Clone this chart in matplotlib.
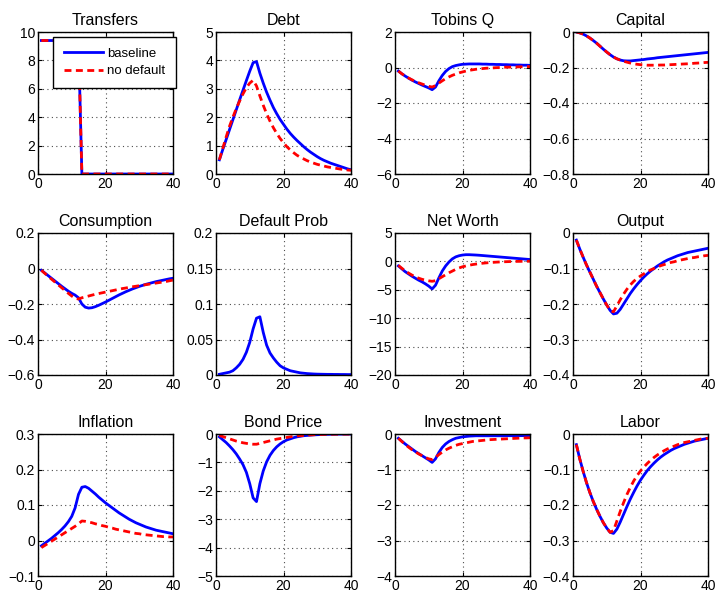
import matplotlib
matplotlib.use("Agg")
import matplotlib.pyplot as plt
from matplotlib.ticker import FuncFormatter

plt.rcParams['font.family'] = ['Liberation Sans', 'DejaVu Sans']

# =========================
# DATA (impulse responses, periods 1..40)
# =========================
periods = list(range(1, 41))

transfers_base = [9.4, 9.4, 9.4, 9.4, 9.4, 9.4, 9.4, 9.4, 9.4, 9.4, 9.4, 9.4,
                  0, 0, 0, 0, 0, 0, 0, 0, 0, 0, 0, 0, 0, 0, 0, 0, 0, 0,
                  0, 0, 0, 0, 0, 0, 0, 0, 0, 0]
transfers_nodef = [9.4, 9.4, 9.4, 9.4, 9.4, 9.4, 9.4, 9.4, 9.4, 9.4, 9.4, 9.4,
                   0, 0, 0, 0, 0, 0, 0, 0, 0, 0, 0, 0, 0, 0, 0, 0, 0, 0,
                   0, 0, 0, 0, 0, 0, 0, 0, 0, 0]

debt_base = [0.50, 0.86, 1.21, 1.56, 1.91, 2.26, 2.61, 2.95, 3.29, 3.62,
             3.92, 3.96, 3.55, 3.20, 2.88, 2.60, 2.34, 2.12, 1.92, 1.75,
             1.58, 1.43, 1.30, 1.18, 1.07, 0.96, 0.86, 0.77, 0.69, 0.61,
             0.54, 0.48, 0.43, 0.38, 0.34, 0.30, 0.26, 0.22, 0.18, 0.15]
debt_nodef = [0.50, 0.90, 1.30, 1.68, 2.00, 2.30, 2.57, 2.82, 3.04, 3.20,
              3.30, 3.10, 2.75, 2.42, 2.12, 1.86, 1.63, 1.43, 1.25, 1.10,
              0.96, 0.85, 0.75, 0.66, 0.59, 0.53, 0.47, 0.42, 0.38, 0.34,
              0.31, 0.28, 0.25, 0.23, 0.21, 0.19, 0.17, 0.16, 0.14, 0.13]

tobinq_base = [-0.20, -0.35, -0.48, -0.60, -0.71, -0.81, -0.90, -0.99, -1.07, -1.15,
               -1.25, -1.10, -0.75, -0.45, -0.22, -0.06, 0.05, 0.11, 0.15, 0.18,
               0.19, 0.20, 0.20, 0.20, 0.20, 0.19, 0.19, 0.18, 0.18, 0.17,
               0.17, 0.16, 0.16, 0.15, 0.15, 0.14, 0.14, 0.13, 0.13, 0.12]
tobinq_nodef = [-0.20, -0.35, -0.48, -0.59, -0.69, -0.78, -0.86, -0.93, -1.00, -1.06,
                -1.10, -1.02, -0.88, -0.75, -0.63, -0.53, -0.44, -0.37, -0.30, -0.25,
                -0.20, -0.16, -0.13, -0.10, -0.08, -0.06, -0.04, -0.03, -0.02, -0.01,
                0.00, 0.01, 0.02, 0.02, 0.03, 0.03, 0.04, 0.04, 0.05, 0.05]

capital_base = [0.000, -0.005, -0.012, -0.022, -0.034, -0.048, -0.063, -0.080, -0.097, -0.113,
                -0.128, -0.141, -0.151, -0.158, -0.162, -0.163, -0.163, -0.161, -0.159, -0.157,
                -0.155, -0.152, -0.150, -0.148, -0.145, -0.143, -0.141, -0.139, -0.137, -0.135,
                -0.133, -0.131, -0.129, -0.127, -0.125, -0.123, -0.121, -0.119, -0.117, -0.115]
capital_nodef = [0.000, -0.005, -0.012, -0.022, -0.034, -0.048, -0.063, -0.080, -0.097, -0.113,
                 -0.128, -0.141, -0.151, -0.158, -0.165, -0.170, -0.175, -0.179, -0.182, -0.184,
                 -0.186, -0.187, -0.187, -0.187, -0.187, -0.186, -0.186, -0.185, -0.184, -0.183,
                 -0.182, -0.181, -0.180, -0.179, -0.178, -0.176, -0.175, -0.174, -0.172, -0.171]

cons_base = [-0.010, -0.025, -0.040, -0.055, -0.070, -0.085, -0.100, -0.114, -0.128, -0.140,
             -0.150, -0.165, -0.200, -0.218, -0.223, -0.221, -0.215, -0.207, -0.198, -0.189,
             -0.179, -0.169, -0.159, -0.149, -0.140, -0.131, -0.123, -0.115, -0.108, -0.101,
             -0.095, -0.089, -0.084, -0.079, -0.074, -0.070, -0.066, -0.062, -0.058, -0.055]
cons_nodef = [-0.010, -0.027, -0.044, -0.060, -0.076, -0.092, -0.108, -0.124, -0.140, -0.155,
              -0.168, -0.172, -0.165, -0.160, -0.155, -0.150, -0.145, -0.141, -0.137, -0.133,
              -0.129, -0.125, -0.121, -0.117, -0.113, -0.110, -0.106, -0.103, -0.100, -0.097,
              -0.094, -0.091, -0.088, -0.085, -0.082, -0.079, -0.076, -0.073, -0.069, -0.065]

defprob_base = [0.001, 0.002, 0.003, 0.004, 0.006, 0.010, 0.015, 0.022, 0.032, 0.046,
                0.065, 0.080, 0.082, 0.060, 0.042, 0.031, 0.024, 0.018, 0.013, 0.010,
                0.008, 0.006, 0.005, 0.004, 0.003, 0.0025, 0.002, 0.0017, 0.0014, 0.0012,
                0.0011, 0.0010, 0.0009, 0.0009, 0.0008, 0.0008, 0.0007, 0.0007, 0.0006, 0.0006]

networth_base = [-0.80, -1.30, -1.80, -2.20, -2.60, -2.95, -3.30, -3.60, -3.95, -4.35,
                 -4.85, -4.20, -2.90, -1.70, -0.80, -0.10, 0.45, 0.80, 1.00, 1.12,
                 1.18, 1.18, 1.15, 1.12, 1.08, 1.03, 0.98, 0.93, 0.88, 0.83,
                 0.78, 0.73, 0.68, 0.63, 0.58, 0.53, 0.48, 0.43, 0.38, 0.33]
networth_nodef = [-0.70, -1.20, -1.65, -2.05, -2.40, -2.70, -2.95, -3.15, -3.30, -3.42,
                  -3.50, -3.40, -3.05, -2.70, -2.35, -2.00, -1.70, -1.40, -1.15, -0.95,
                  -0.80, -0.67, -0.56, -0.47, -0.39, -0.32, -0.26, -0.21, -0.17, -0.13,
                  -0.10, -0.07, -0.05, -0.03, -0.01, 0.00, 0.01, 0.02, 0.03, 0.03]

output_base = [-0.020, -0.045, -0.068, -0.090, -0.110, -0.130, -0.150, -0.168, -0.186, -0.203,
               -0.218, -0.228, -0.226, -0.215, -0.200, -0.185, -0.170, -0.157, -0.145, -0.134,
               -0.124, -0.115, -0.107, -0.100, -0.093, -0.087, -0.081, -0.076, -0.072, -0.068,
               -0.064, -0.061, -0.058, -0.055, -0.053, -0.051, -0.049, -0.047, -0.045, -0.043]
output_nodef = [-0.020, -0.045, -0.068, -0.090, -0.110, -0.130, -0.150, -0.168, -0.186, -0.203,
                -0.218, -0.222, -0.205, -0.188, -0.172, -0.158, -0.146, -0.136, -0.128, -0.121,
                -0.115, -0.109, -0.104, -0.100, -0.096, -0.092, -0.089, -0.086, -0.083, -0.081,
                -0.078, -0.076, -0.074, -0.072, -0.070, -0.069, -0.067, -0.066, -0.064, -0.063]

infl_base = [-0.015, -0.008, -0.001, 0.006, 0.014, 0.022, 0.031, 0.041, 0.053, 0.068,
             0.092, 0.130, 0.150, 0.152, 0.147, 0.139, 0.131, 0.122, 0.114, 0.106,
             0.099, 0.092, 0.085, 0.078, 0.072, 0.066, 0.060, 0.055, 0.050, 0.046,
             0.042, 0.038, 0.035, 0.032, 0.029, 0.027, 0.025, 0.023, 0.021, 0.019]
infl_nodef = [-0.020, -0.014, -0.008, -0.002, 0.004, 0.010, 0.016, 0.022, 0.028, 0.034,
              0.040, 0.047, 0.055, 0.054, 0.052, 0.050, 0.047, 0.045, 0.042, 0.040,
              0.037, 0.035, 0.032, 0.030, 0.028, 0.026, 0.024, 0.022, 0.020, 0.019,
              0.017, 0.016, 0.015, 0.014, 0.013, 0.012, 0.011, 0.011, 0.010, 0.010]

bond_base = [-0.10, -0.20, -0.30, -0.42, -0.55, -0.70, -0.88, -1.08, -1.35, -1.75,
             -2.25, -2.38, -1.75, -1.30, -0.98, -0.75, -0.58, -0.45, -0.35, -0.27,
             -0.21, -0.17, -0.13, -0.10, -0.08, -0.06, -0.05, -0.04, -0.03, -0.025,
             -0.020, -0.015, -0.012, -0.010, -0.008, -0.006, -0.005, -0.004, -0.003, -0.002]
bond_nodef = [-0.05, -0.09, -0.13, -0.17, -0.21, -0.25, -0.28, -0.31, -0.33, -0.35,
              -0.36, -0.36, -0.33, -0.30, -0.27, -0.24, -0.21, -0.18, -0.16, -0.14,
              -0.12, -0.10, -0.085, -0.07, -0.06, -0.05, -0.04, -0.033, -0.027, -0.022,
              -0.018, -0.015, -0.012, -0.010, -0.008, -0.006, -0.005, -0.004, -0.003, -0.002]

invest_base = [-0.12, -0.20, -0.28, -0.35, -0.42, -0.49, -0.55, -0.61, -0.67, -0.73,
               -0.80, -0.70, -0.52, -0.38, -0.28, -0.21, -0.16, -0.12, -0.10, -0.08,
               -0.07, -0.06, -0.055, -0.05, -0.05, -0.05, -0.05, -0.05, -0.05, -0.05,
               -0.05, -0.05, -0.048, -0.048, -0.048, -0.047, -0.047, -0.046, -0.046, -0.045]
invest_nodef = [-0.12, -0.21, -0.29, -0.37, -0.44, -0.50, -0.56, -0.61, -0.66, -0.70,
                -0.72, -0.66, -0.58, -0.51, -0.45, -0.40, -0.36, -0.32, -0.29, -0.27,
                -0.25, -0.23, -0.21, -0.20, -0.19, -0.18, -0.17, -0.16, -0.155, -0.15,
                -0.145, -0.14, -0.135, -0.13, -0.125, -0.12, -0.115, -0.11, -0.11, -0.105]

labor_base = [-0.030, -0.070, -0.105, -0.137, -0.165, -0.190, -0.212, -0.232, -0.250, -0.265,
              -0.277, -0.280, -0.268, -0.248, -0.226, -0.204, -0.183, -0.164, -0.146, -0.130,
              -0.116, -0.103, -0.092, -0.082, -0.073, -0.065, -0.058, -0.052, -0.046, -0.041,
              -0.037, -0.033, -0.029, -0.026, -0.023, -0.020, -0.018, -0.016, -0.014, -0.012]
labor_nodef = [-0.030, -0.070, -0.105, -0.137, -0.165, -0.190, -0.212, -0.232, -0.250, -0.265,
               -0.277, -0.272, -0.245, -0.218, -0.193, -0.170, -0.150, -0.132, -0.117, -0.104,
               -0.093, -0.083, -0.074, -0.066, -0.059, -0.053, -0.047, -0.042, -0.038, -0.034,
               -0.030, -0.027, -0.024, -0.022, -0.020, -0.018, -0.016, -0.014, -0.013, -0.012]

titles = ["Transfers", "Debt", "Tobins Q", "Capital",
          "Consumption", "Default Prob", "Net Worth", "Output",
          "Inflation", "Bond Price", "Investment", "Labor"]
baseline = [transfers_base, debt_base, tobinq_base, capital_base,
            cons_base, defprob_base, networth_base, output_base,
            infl_base, bond_base, invest_base, labor_base]
nodefault = [transfers_nodef, debt_nodef, tobinq_nodef, capital_nodef,
             cons_nodef, None, networth_nodef, output_nodef,
             infl_nodef, bond_nodef, invest_nodef, labor_nodef]
yticks = [[0, 2, 4, 6, 8, 10], [0, 1, 2, 3, 4, 5], [-6, -4, -2, 0, 2], [-0.8, -0.6, -0.4, -0.2, 0],
          [-0.6, -0.4, -0.2, 0, 0.2], [0, 0.05, 0.1, 0.15, 0.2], [-20, -15, -10, -5, 0, 5], [-0.4, -0.3, -0.2, -0.1, 0],
          [-0.1, 0, 0.1, 0.2, 0.3], [-5, -4, -3, -2, -1, 0], [-4, -3, -2, -1, 0], [-0.4, -0.3, -0.2, -0.1, 0]]


def fmt(v, pos):
    return ("%g" % round(v, 4)).replace("-", "\u2212")


# =========================
# PLOT
# =========================
W, H = 717, 593
fig = plt.figure(figsize=(W / 100, H / 100), dpi=100)

lefts = [38, 216, 395, 573]
tops = [32, 233, 434]
aw, ah = 135, 142

for i, name in enumerate(titles):
    r, c = divmod(i, 4)
    ax = fig.add_axes([lefts[c] / W, 1 - (tops[r] + ah) / H, aw / W, ah / H])
    ax.plot(periods, baseline[i], color='blue', lw=2, label='baseline')
    if nodefault[i] is not None:
        ax.plot(periods, nodefault[i], color='red', lw=2, ls=(0, (2.5, 1.6)),
                label='no default')
    ax.set_xlim(0, 40)
    ax.set_ylim(yticks[i][0], yticks[i][-1])
    ax.set_xticks([0, 20, 40])
    ax.set_yticks(yticks[i])
    ax.yaxis.set_major_formatter(FuncFormatter(fmt))
    ax.grid(True, ls=(0, (1, 3)), color='0.3', lw=0.8)
    ax.tick_params(direction='in', top=True, right=True, length=3,
                   labelsize=10, pad=2)
    for s in ax.spines.values():
        s.set_linewidth(1.0)
    ax.set_title(name, fontsize=11.5, pad=5)

    if i == 0:
        ax.legend(loc='upper left', bbox_to_anchor=(0.111, 0.965), borderaxespad=0,
                  fontsize=9.5, fancybox=False, edgecolor='black', framealpha=1,
                  handlelength=3.0, handletextpad=0.3, borderpad=0.8,
                  labelspacing=0.4)

plt.savefig("out.png", dpi=100)
